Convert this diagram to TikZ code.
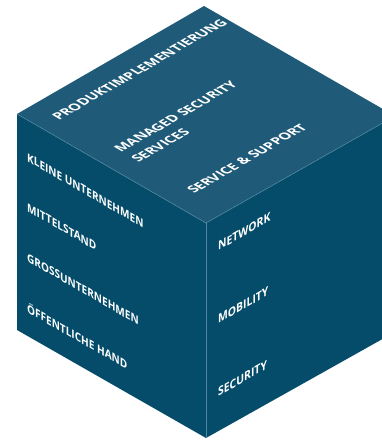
\documentclass[tikz,border=0pt]{standalone}
\usepackage{fontspec}
\setmainfont{Open Sans}
\definecolor{topface}{RGB}{31,91,120}
\definecolor{sideface}{RGB}{4,76,106}
\definecolor{seam}{RGB}{80,135,160}
\begin{document}
\begin{tikzpicture}[x=1pt,y=1pt,
  lbl/.style={text=white,font=\fontsize{12}{14}\selectfont\bfseries,inner sep=0pt,anchor=base west,transform shape},
  lbll/.style={lbl,font=\fontsize{11.6}{14}\selectfont\bfseries},
  lblt/.style={lbl,font=\fontsize{13.4}{16}\selectfont\bfseries},
  seamline/.style={draw=seam,line width=0.6pt}]
\useasboundingbox (0,0) rectangle (382,440);
\clip (0,0) rectangle (382,440);
% vertices (y up = 440 - pixel y)
\coordinate (T) at (204,434);
\coordinate (L) at (17,326);
\coordinate (C) at (206,217);
\coordinate (R) at (395,324);
\coordinate (LB) at (17,110);
\coordinate (B) at (206,2);
\coordinate (RB) at (395,108);
\fill[topface] (T) -- (R) -- (C) -- (L) -- cycle;
\fill[sideface] (L) -- (C) -- (B) -- (LB) -- cycle;
\fill[sideface] (C) -- (R) -- (RB) -- (B) -- cycle;
\draw[seamline] (L) -- (C) -- (R);
\draw[seamline] (C) -- (B);
% left face
\begin{scope}[cm={0.866,-0.5,0,1,(27,279)}]
  \node[lbll] (kl) at (0,0) {KLEINE UNTERNEHMEN};
\end{scope}
\begin{scope}[cm={0.866,-0.5,0,1,(27,229)}]
  \node[lbll] (mi) at (0,0) {MITTELSTAND};
\end{scope}
\begin{scope}[cm={0.866,-0.5,0,1,(27,179)}]
  \node[lbll] (gr) at (0,0) {GROSSUNTERNEHMEN};
\end{scope}
\begin{scope}[cm={0.866,-0.5,0,1,(27,128)}]
  \node[lbll] (oe) at (0,0) {ÖFFENTLICHE HAND};
\end{scope}
% right face
\begin{scope}[cm={0.866,0.5,0,1,(218,189)}]
  \node[lbl] (nw) at (0,0) {NETWORK};
\end{scope}
\begin{scope}[cm={0.866,0.5,0,1,(218,116)}]
  \node[lbl] (mo) at (0,0) {MOBILITY};
\end{scope}
\begin{scope}[cm={0.866,0.5,0,1,(218,43)}]
  \node[lbl] (se) at (0,0) {SECURITY};
\end{scope}
% top face
\begin{scope}[cm={0.866,0.5,-0.866,0.5,(59,319)}]
  \node[lblt] (pi) at (0,0) {PRODUKTIMPLEMENTIERUNG};
\end{scope}
\begin{scope}[cm={0.866,0.5,-0.866,0.5,(121,287)}]
  \node[lblt] (ms) at (0,0) {MANAGED SECURITY};
  \node[lblt] (ms2) at (0,-20) {SERVICES};
\end{scope}
\begin{scope}[cm={0.866,0.5,-0.866,0.5,(194,246)}]
  \node[lblt] (ss) at (0,0) {SERVICE \& SUPPORT};
\end{scope}
\end{tikzpicture}
\end{document}
